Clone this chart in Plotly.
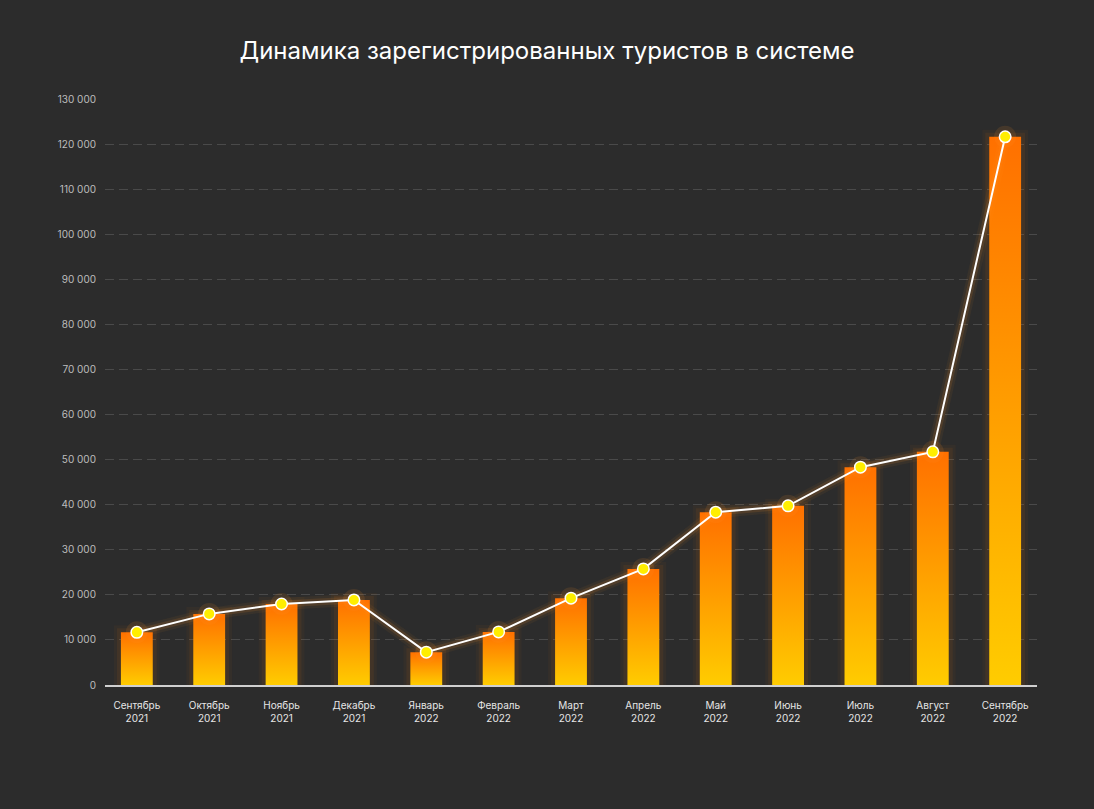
import plotly.graph_objects as go

months = ["Сентябрь<br>2021", "Октябрь<br>2021", "Ноябрь<br>2021", "Декабрь<br>2021",
          "Январь<br>2022", "Февраль<br>2022", "Март<br>2022", "Апрель<br>2022",
          "Май<br>2022", "Июнь<br>2022", "Июль<br>2022", "Август<br>2022", "Сентябрь<br>2022"]
tourists = [11700, 15800, 18000, 18900, 7300, 11800, 19300, 25800,
            38400, 39800, 48400, 51800, 121800]
y_ticks = list(range(0, 130001, 10000))

BG = "#2c2c2c"
half = 0.22
xs = list(range(len(months)))

fig = go.Figure()

# glow layers behind bars
for i, v in zip(xs, tourists):
    bx = [i - half, i + half, i + half, i - half, i - half]
    by = [0, 0, v, v, 0]
    for w, a in [(14, 0.04), (8, 0.07)]:
        fig.add_trace(go.Scatter(x=bx, y=by, mode="lines",
                                 line=dict(color=f"rgba(255,130,0,{a})", width=w),
                                 hoverinfo="skip", showlegend=False))

# gradient bars
for i, v in zip(xs, tourists):
    bx = [i - half, i + half, i + half, i - half, i - half]
    by = [0, 0, v, v, 0]
    fig.add_trace(go.Scatter(
        x=bx, y=by, mode="lines", fill="toself",
        line=dict(width=0, color="rgba(0,0,0,0)"),
        fillgradient=dict(type="vertical",
                          colorscale=[[0, "#ffcc00"], [1, "#ff7000"]]),
        hoverinfo="skip", showlegend=False))

# line glow
for w, a in [(12, 0.06), (7, 0.12)]:
    fig.add_trace(go.Scatter(x=xs, y=tourists, mode="lines",
                             line=dict(color=f"rgba(255,150,40,{a})", width=w),
                             hoverinfo="skip", showlegend=False))

# marker glow
fig.add_trace(go.Scatter(x=xs, y=tourists, mode="markers",
                         marker=dict(size=22, color="rgba(255,150,40,0.12)"),
                         hoverinfo="skip", showlegend=False))

fig.add_trace(go.Scatter(
    x=xs, y=tourists, mode="lines+markers",
    line=dict(color="#ffffff", width=2),
    marker=dict(size=11.5, color="#ffee00", line=dict(color="#ffffff", width=1.5)),
    showlegend=False))

fig.update_layout(
    width=1094, height=809,
    paper_bgcolor=BG, plot_bgcolor=BG,
    margin=dict(l=105, r=57, t=99, b=124),
    separators=", ",
    title=dict(text="Динамика зарегистрированных туристов в системе",
               x=0.5, xanchor="center", y=0.938, yanchor="middle",
               font=dict(family="Inter", size=24, color="#ffffff")),
    font=dict(family="Inter", color="#cfcfcf"),
    xaxis=dict(range=[-0.44, 12.44], tickvals=xs, ticktext=months,
               showgrid=False, zeroline=False,
               showline=True, linecolor="#d0d0d0", linewidth=2,
               ticks="", ticklabelstandoff=10,
               tickfont=dict(size=10, color="#e6e6e6")),
    yaxis=dict(range=[0, 130200], tickvals=y_ticks, tickformat=",d",
               showgrid=True, gridcolor="#4a4a4a", griddash="9px,5px", gridwidth=1.2,
               zeroline=False, showline=False, ticks="",
               ticklabelstandoff=8,
               tickfont=dict(size=10, color="#bdbdbd")),
)

fig.write_html("out.html")
